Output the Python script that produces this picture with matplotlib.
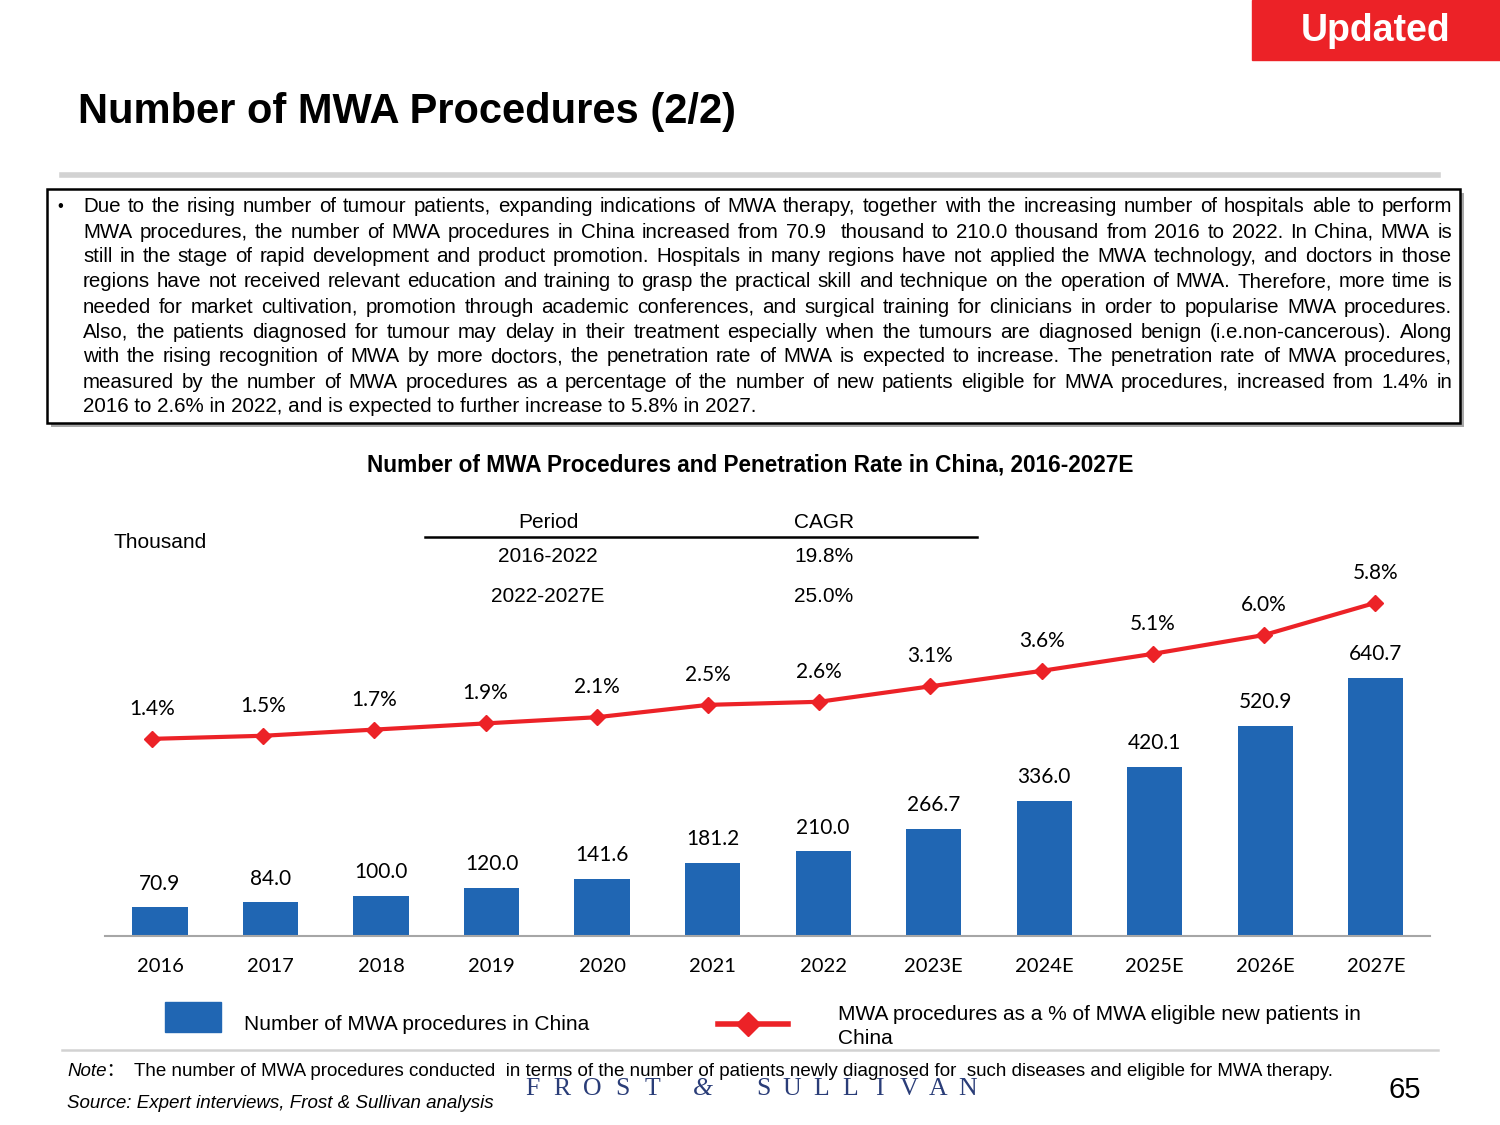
import matplotlib.pyplot as plt
import matplotlib.patches as patches
import numpy as np

years = ['2016', '2017', '2018', '2019', '2020', '2021', '2022',
         '2023E', '2024E', '2025E', '2026E', '2027E']
procedures = [70.9, 84.0, 100.0, 120.0, 141.6, 181.2, 210.0,
              266.7, 336.0, 420.1, 520.9, 640.7]
# line heights as drawn in the source chart (2025E/2026E points sit lower than their labels)
penetration = [1.4, 1.5, 1.7, 1.9, 2.1, 2.5, 2.6, 3.1, 3.6, 4.15, 4.76, 5.8]
penetration_labels = ['1.4%', '1.5%', '1.7%', '1.9%', '2.1%', '2.5%', '2.6%',
                      '3.1%', '3.6%', '5.1%', '6.0%', '5.8%']

cagr_periods = ['2016-2022', '2022-2027E']
cagr_values = ['19.8%', '25.0%']

body_lines = [
    "Due to the rising number of tumour patients, expanding indications of MWA therapy, together with the increasing number of hospitals able to perform",
    "MWA procedures, the number of MWA procedures in China increased from 70.9  thousand to 210.0 thousand from 2016 to 2022. In China, MWA is",
    "still in the stage of rapid development and product promotion. Hospitals in many regions have not applied the MWA technology, and doctors in those",
    "regions have not received relevant education and training to grasp the practical skill and technique on the operation of MWA. Therefore, more time is",
    "needed for market cultivation, promotion through academic conferences, and surgical training for clinicians in order to popularise MWA procedures.",
    "Also, the patients diagnosed for tumour may delay in their treatment especially when the tumours are diagnosed benign (i.e.non-cancerous). Along",
    "with the rising recognition of MWA by more doctors, the penetration rate of MWA is expected to increase. The penetration rate of MWA procedures,",
    "measured by the number of MWA procedures as a percentage of the number of new patients eligible for MWA procedures, increased from 1.4% in",
    "2016 to 2.6% in 2022, and is expected to further increase to 5.8% in 2027.",
]

BLUE = '#2066B3'
RED = '#EC2227'
W, H = 1500, 1125

plt.rcParams['font.family'] = ['Liberation Sans', 'DejaVu Sans']
fig = plt.figure(figsize=(15, 11.25), dpi=100)


def fx(px):
    return px / W


def fy(py):
    return 1 - py / H


# header
fig.patches.append(patches.Rectangle((fx(1252), fy(60)), fx(248), 60 / H,
                                     transform=fig.transFigure, color=RED, zorder=1))
fig.text(fx(1376), fy(31), 'Updated', color='white', fontsize=27, fontweight='bold',
         ha='center', va='center')
fig.text(fx(78), fy(112), 'Number of MWA Procedures (2/2)', fontsize=30, fontweight='bold',
         ha='left', va='center')
fig.add_artist(plt.Line2D([fx(62), fx(1438)], [fy(175), fy(175)], color='#D2D2D2', lw=4))

# text box with shadow
fig.patches.append(patches.Rectangle((fx(51), fy(427)), fx(1413), (427 - 193) / H,
                                     transform=fig.transFigure, facecolor='#A8A8A8',
                                     edgecolor='none', zorder=1))
fig.patches.append(patches.Rectangle((fx(47), fy(423)), fx(1413), (423 - 189) / H,
                                     transform=fig.transFigure, facecolor='white',
                                     edgecolor='black', lw=1.8, zorder=2))
fig.text(fx(57), fy(207), '\u2022', fontsize=12, ha='left', va='center', zorder=3)

body_size = 14.8
renderer = fig.canvas.get_renderer()
x_left, x_right = 83, 1452
for i, line in enumerate(body_lines):
    y = fy(207 + i * 25)
    words = line.split(' ')
    if i == len(body_lines) - 1:
        fig.text(fx(x_left), y, line, fontsize=body_size, ha='left', va='center', zorder=3)
        continue
    txts = [fig.text(0, y, w, fontsize=body_size, ha='left', va='center', zorder=3) for w in words]
    widths = [t.get_window_extent(renderer).width for t in txts]
    gap = (x_right - x_left - sum(widths)) / (len(words) - 1)
    pos = x_left
    for t, wd in zip(txts, widths):
        t.set_x(fx(pos))
        pos += wd + gap

# chart title
fig.text(fx(750), fy(465), 'Number of MWA Procedures and Penetration Rate in China, 2016-2027E',
         fontsize=16.3, fontweight='bold', ha='center', va='center')

# bars: axes spans x 105-1430 px, y 500-936 px
ax = fig.add_axes([fx(105), fy(936), fx(1325), 436 / H])
x = np.arange(len(years))
ax.bar(x, procedures, width=0.5, color=BLUE, zorder=2)
ax.set_xlim(-0.4975, 11.49)
ax.set_ylim(0, 1082)
for xi, v in zip(x, procedures):
    ax.annotate(f'{v:.1f}', xy=(xi, v), xytext=(0, 17), textcoords='offset points',
                ha='center', va='center', fontsize=15, family='Lato')
ax.set_xticks(x)
ax.set_xticklabels(years, fontsize=14.5, family='Lato')
ax.tick_params(axis='x', length=0, pad=16)
ax.set_yticks([])
for s in ['top', 'right', 'left']:
    ax.spines[s].set_visible(False)
ax.spines['bottom'].set_color('#A6A6A6')
ax.spines['bottom'].set_linewidth(1.5)
ax.patch.set_alpha(0)

# line sits on its own (slightly shifted) x scale, as in the source
ax2 = fig.add_axes([fx(105), fy(936), fx(1325), 436 / H])
ax2.plot(x, penetration, color=RED, lw=3, marker='D', markersize=8, zorder=3)
ax2.set_xlim(-0.4227, 11.493)
ax2.set_ylim(-4.98, 9.13)
ax2.axis('off')
for xi, p, lab in zip(x, penetration, penetration_labels):
    ax2.annotate(lab, xy=(xi, p), xytext=(0, 21.6), textcoords='offset points',
                 ha='center', va='center', fontsize=15, family='Lato')

# unit and CAGR table
fig.text(fx(113), fy(542), 'Thousand', fontsize=15, ha='left', va='center')
fig.text(fx(548), fy(522), 'Period', fontsize=15, ha='center', va='center')
fig.text(fx(824), fy(522), 'CAGR', fontsize=15, ha='center', va='center')
fig.add_artist(plt.Line2D([fx(425), fx(977)], [fy(537), fy(537)], color='black', lw=1.8))
for i, (p, c) in enumerate(zip(cagr_periods, cagr_values)):
    yy = fy(557 + i * 40)
    fig.text(fx(548), yy, p, fontsize=15, ha='center', va='center')
    fig.text(fx(824), yy, c, fontsize=15, ha='center', va='center')

# legend
fig.patches.append(patches.Rectangle((fx(165), fy(1032)), fx(56), 30 / H,
                                     transform=fig.transFigure, color=BLUE))
fig.text(fx(244), fy(1025), 'Number of MWA procedures in China', fontsize=15,
         ha='left', va='center')
fig.add_artist(plt.Line2D([fx(718), fx(788)], [fy(1024), fy(1024)], color=RED, lw=4))
fig.add_artist(plt.Line2D([fx(748)], [fy(1024)], color=RED, marker='D', markersize=12, lw=0))
fig.text(fx(838), fy(1014), 'MWA procedures as a % of MWA eligible new patients in',
         fontsize=15, ha='left', va='center')
fig.text(fx(838), fy(1039), 'China', fontsize=15, ha='left', va='center')

# footer
fig.add_artist(plt.Line2D([fx(62), fx(1438)], [fy(1050), fy(1050)], color='#D2D2D2', lw=1.8))
fig.text(fx(67), fy(1071), 'Note\uff1a', fontsize=13.5, style='italic', ha='left', va='center',
         family=['Liberation Sans', 'Noto Sans CJK SC'])
fig.text(fx(134), fy(1071),
         'The number of MWA procedures conducted  in terms of the number of patients newly diagnosed for  such diseases and eligible for MWA therapy.',
         fontsize=13.5, ha='left', va='center')
fig.text(fx(67), fy(1103), 'Source: Expert interviews, Frost & Sullivan analysis', fontsize=13.5,
         style='italic', ha='left', va='center')

logo_chars = list('FROST') + ['&'] + list('SULLIVAN')
logo_x = [532 + 30.2 * k for k in range(5)] + [703] + [763 + 29.2 * k for k in range(8)]
for ch, px in zip(logo_chars, logo_x):
    fig.text(fx(px), fy(1089), ch, fontsize=18.5, family='Liberation Serif', color='#2A3D78',
             ha='center', va='center', style='italic' if ch == '&' else 'normal')
fig.text(fx(1405), fy(1090), '65', fontsize=21, ha='center', va='center')

fig.savefig('out.png', dpi=100)
